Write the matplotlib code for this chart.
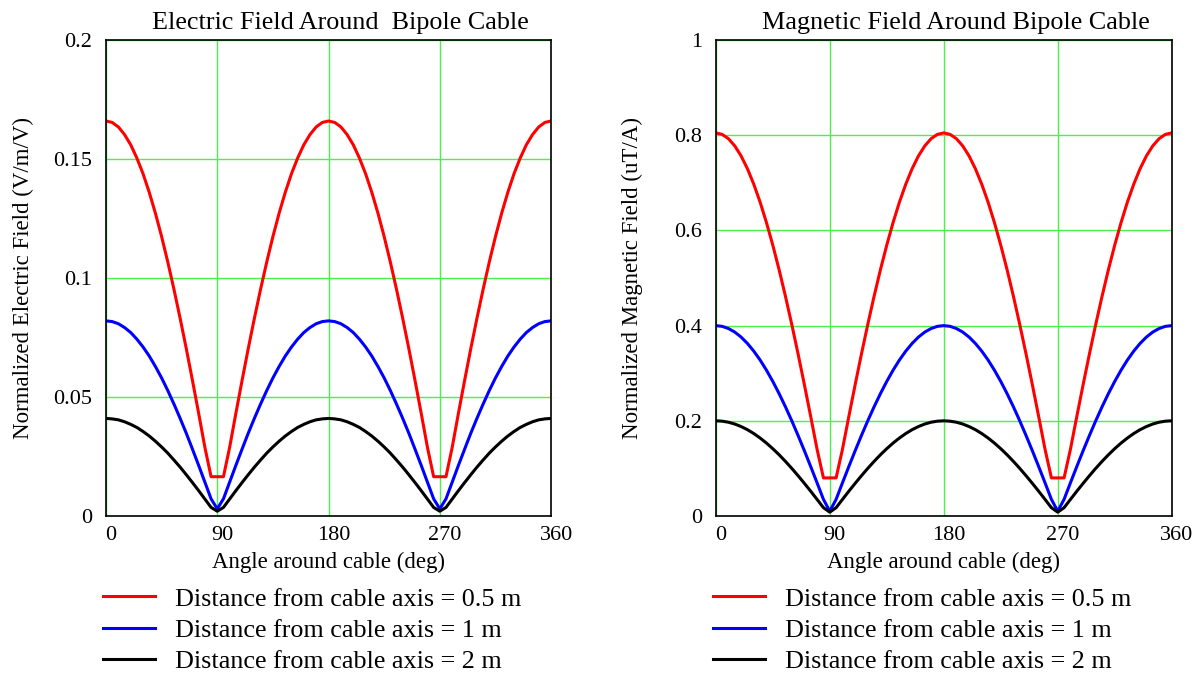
import matplotlib
matplotlib.use('Agg')
import matplotlib.pyplot as plt
import matplotlib.transforms as mtransforms

plt.rcParams['font.family'] = ['Liberation Serif', 'DejaVu Serif']

# Angle around cable (deg), 5 deg steps
angle = list(range(0, 361, 5))

# Electric field (V/m/V)
e_05 = [0.1660, 0.1654, 0.1635, 0.1603, 0.1560, 0.1504, 0.1438, 0.1360, 0.1272, 0.1174, 0.1067, 0.0952, 0.0830, 0.0702, 0.0568, 0.0430, 0.0288, 0.0165, 0.0165,
        0.0165, 0.0288, 0.0430, 0.0568, 0.0702, 0.0830, 0.0952, 0.1067, 0.1174, 0.1272, 0.1360, 0.1438, 0.1504, 0.1560, 0.1603, 0.1635, 0.1654, 0.1660,
        0.1654, 0.1635, 0.1603, 0.1560, 0.1504, 0.1438, 0.1360, 0.1272, 0.1174, 0.1067, 0.0952, 0.0830, 0.0702, 0.0568, 0.0430, 0.0288, 0.0165, 0.0165,
        0.0165, 0.0288, 0.0430, 0.0568, 0.0702, 0.0830, 0.0952, 0.1067, 0.1174, 0.1272, 0.1360, 0.1438, 0.1504, 0.1560, 0.1603, 0.1635, 0.1654, 0.1660]
e_1 = [0.0820, 0.0817, 0.0808, 0.0792, 0.0771, 0.0743, 0.0710, 0.0672, 0.0628, 0.0580, 0.0527, 0.0470, 0.0410, 0.0347, 0.0280, 0.0212, 0.0142, 0.0072, 0.0030,
       0.0072, 0.0142, 0.0212, 0.0280, 0.0347, 0.0410, 0.0470, 0.0527, 0.0580, 0.0628, 0.0672, 0.0710, 0.0743, 0.0771, 0.0792, 0.0808, 0.0817, 0.0820,
       0.0817, 0.0808, 0.0792, 0.0771, 0.0743, 0.0710, 0.0672, 0.0628, 0.0580, 0.0527, 0.0470, 0.0410, 0.0347, 0.0280, 0.0212, 0.0142, 0.0072, 0.0030,
       0.0072, 0.0142, 0.0212, 0.0280, 0.0347, 0.0410, 0.0470, 0.0527, 0.0580, 0.0628, 0.0672, 0.0710, 0.0743, 0.0771, 0.0792, 0.0808, 0.0817, 0.0820]
e_2 = [0.0410, 0.0408, 0.0404, 0.0396, 0.0385, 0.0372, 0.0355, 0.0336, 0.0314, 0.0290, 0.0264, 0.0235, 0.0205, 0.0173, 0.0140, 0.0106, 0.0071, 0.0036, 0.0020,
       0.0036, 0.0071, 0.0106, 0.0140, 0.0173, 0.0205, 0.0235, 0.0264, 0.0290, 0.0314, 0.0336, 0.0355, 0.0372, 0.0385, 0.0396, 0.0404, 0.0408, 0.0410,
       0.0408, 0.0404, 0.0396, 0.0385, 0.0372, 0.0355, 0.0336, 0.0314, 0.0290, 0.0264, 0.0235, 0.0205, 0.0173, 0.0140, 0.0106, 0.0071, 0.0036, 0.0020,
       0.0036, 0.0071, 0.0106, 0.0140, 0.0173, 0.0205, 0.0235, 0.0264, 0.0290, 0.0314, 0.0336, 0.0355, 0.0372, 0.0385, 0.0396, 0.0404, 0.0408, 0.0410]

# Magnetic field (uT/A)
m_05 = [0.8050, 0.8019, 0.7928, 0.7776, 0.7565, 0.7296, 0.6971, 0.6595, 0.6166, 0.5692, 0.5175, 0.4617, 0.4025, 0.3402, 0.2753, 0.2083, 0.1398, 0.0800, 0.0800,
        0.0800, 0.1398, 0.2083, 0.2753, 0.3402, 0.4025, 0.4617, 0.5175, 0.5692, 0.6166, 0.6595, 0.6971, 0.7296, 0.7565, 0.7776, 0.7928, 0.8019, 0.8050,
        0.8019, 0.7928, 0.7776, 0.7565, 0.7296, 0.6971, 0.6595, 0.6166, 0.5692, 0.5175, 0.4617, 0.4025, 0.3402, 0.2753, 0.2083, 0.1398, 0.0800, 0.0800,
        0.0800, 0.1398, 0.2083, 0.2753, 0.3402, 0.4025, 0.4617, 0.5175, 0.5692, 0.6166, 0.6595, 0.6971, 0.7296, 0.7565, 0.7776, 0.7928, 0.8019, 0.8050]
m_1 = [0.4000, 0.3985, 0.3939, 0.3864, 0.3759, 0.3625, 0.3464, 0.3277, 0.3064, 0.2828, 0.2571, 0.2294, 0.2000, 0.1690, 0.1368, 0.1035, 0.0695, 0.0349, 0.0100,
       0.0349, 0.0695, 0.1035, 0.1368, 0.1690, 0.2000, 0.2294, 0.2571, 0.2828, 0.3064, 0.3277, 0.3464, 0.3625, 0.3759, 0.3864, 0.3939, 0.3985, 0.4000,
       0.3985, 0.3939, 0.3864, 0.3759, 0.3625, 0.3464, 0.3277, 0.3064, 0.2828, 0.2571, 0.2294, 0.2000, 0.1690, 0.1368, 0.1035, 0.0695, 0.0349, 0.0100,
       0.0349, 0.0695, 0.1035, 0.1368, 0.1690, 0.2000, 0.2294, 0.2571, 0.2828, 0.3064, 0.3277, 0.3464, 0.3625, 0.3759, 0.3864, 0.3939, 0.3985, 0.4000]
m_2 = [0.2000, 0.1992, 0.1970, 0.1932, 0.1879, 0.1813, 0.1732, 0.1638, 0.1532, 0.1414, 0.1286, 0.1147, 0.1000, 0.0845, 0.0684, 0.0518, 0.0347, 0.0174, 0.0080,
       0.0174, 0.0347, 0.0518, 0.0684, 0.0845, 0.1000, 0.1147, 0.1286, 0.1414, 0.1532, 0.1638, 0.1732, 0.1813, 0.1879, 0.1932, 0.1970, 0.1992, 0.2000,
       0.1992, 0.1970, 0.1932, 0.1879, 0.1813, 0.1732, 0.1638, 0.1532, 0.1414, 0.1286, 0.1147, 0.1000, 0.0845, 0.0684, 0.0518, 0.0347, 0.0174, 0.0080,
       0.0174, 0.0347, 0.0518, 0.0684, 0.0845, 0.1000, 0.1147, 0.1286, 0.1414, 0.1532, 0.1638, 0.1732, 0.1813, 0.1879, 0.1932, 0.1970, 0.1992, 0.2000]

labels = ["Distance from cable axis = 0.5 m",
          "Distance from cable axis = 1 m",
          "Distance from cable axis = 2 m"]
colors = ["red", "blue", "black"]

x_ticks = [0, 90, 180, 270, 360]
e_ticks = [0, 0.05, 0.1, 0.15, 0.2]
e_tick_labels = ["0", "0.05", "0.1", "0.15", "0.2"]
m_ticks = [0, 0.2, 0.4, 0.6, 0.8, 1]
m_tick_labels = ["0", "0.2", "0.4", "0.6", "0.8", "1"]

fig = plt.figure(figsize=(12.03, 6.75), dpi=100)
ax_e = fig.add_axes([0.0881, 0.2356, 0.370, 0.705])
ax_m = fig.add_axes([0.595, 0.2356, 0.379, 0.705])

panels = [
    (ax_e, [e_05, e_1, e_2], e_ticks, e_tick_labels, 0.2,
     "Electric Field Around  Bipole Cable", "Normalized Electric Field (V/m/V)", 14),
    (ax_m, [m_05, m_1, m_2], m_ticks, m_tick_labels, 1.0,
     "Magnetic Field Around Bipole Cable", "Normalized Magnetic Field (uT/A)", 22),
]

# x tick labels sit a little right of their grid lines
shift = mtransforms.ScaledTranslation(5 / 100, 0, fig.dpi_scale_trans)

for ax, series, yt, ytl, ymax, title, ylabel, ypad in panels:
    for vals, c, lab in zip(series, colors, labels):
        ax.plot(angle, vals, color=c, lw=2.2, label=lab, solid_joinstyle='round')
    ax.set_xlim(0, 360)
    ax.set_ylim(0, ymax)
    ax.set_xticks(x_ticks)
    ax.set_xticklabels([str(t) for t in x_ticks])
    ax.set_yticks(yt)
    ax.set_yticklabels(ytl)
    ax.grid(True, color='#4cf04c', lw=1.0)
    ax.tick_params(length=0, labelsize=16)
    ax.tick_params(axis='x', pad=7)
    ax.tick_params(axis='y', pad=10)
    for lbl in ax.get_xticklabels():
        lbl.set_transform(lbl.get_transform() + shift)
    ax.set_title(title, fontsize=18.8, pad=8, x=0.5 + 12 / 445)
    ax.set_ylabel(ylabel, fontsize=16.5, labelpad=ypad)
    ax.set_xlabel("Angle around cable (deg)", fontsize=16.5, labelpad=5)
    for s in ax.spines.values():
        s.set_color('black')
        s.set_linewidth(1.2)
    ax.legend(loc='upper left', bbox_to_anchor=(-0.007, -0.15), frameon=False,
              fontsize=18.8, handlelength=2.0, handletextpad=0.77, labelspacing=0.31,
              borderaxespad=0, borderpad=0)

fig.savefig("out.png", dpi=100)
